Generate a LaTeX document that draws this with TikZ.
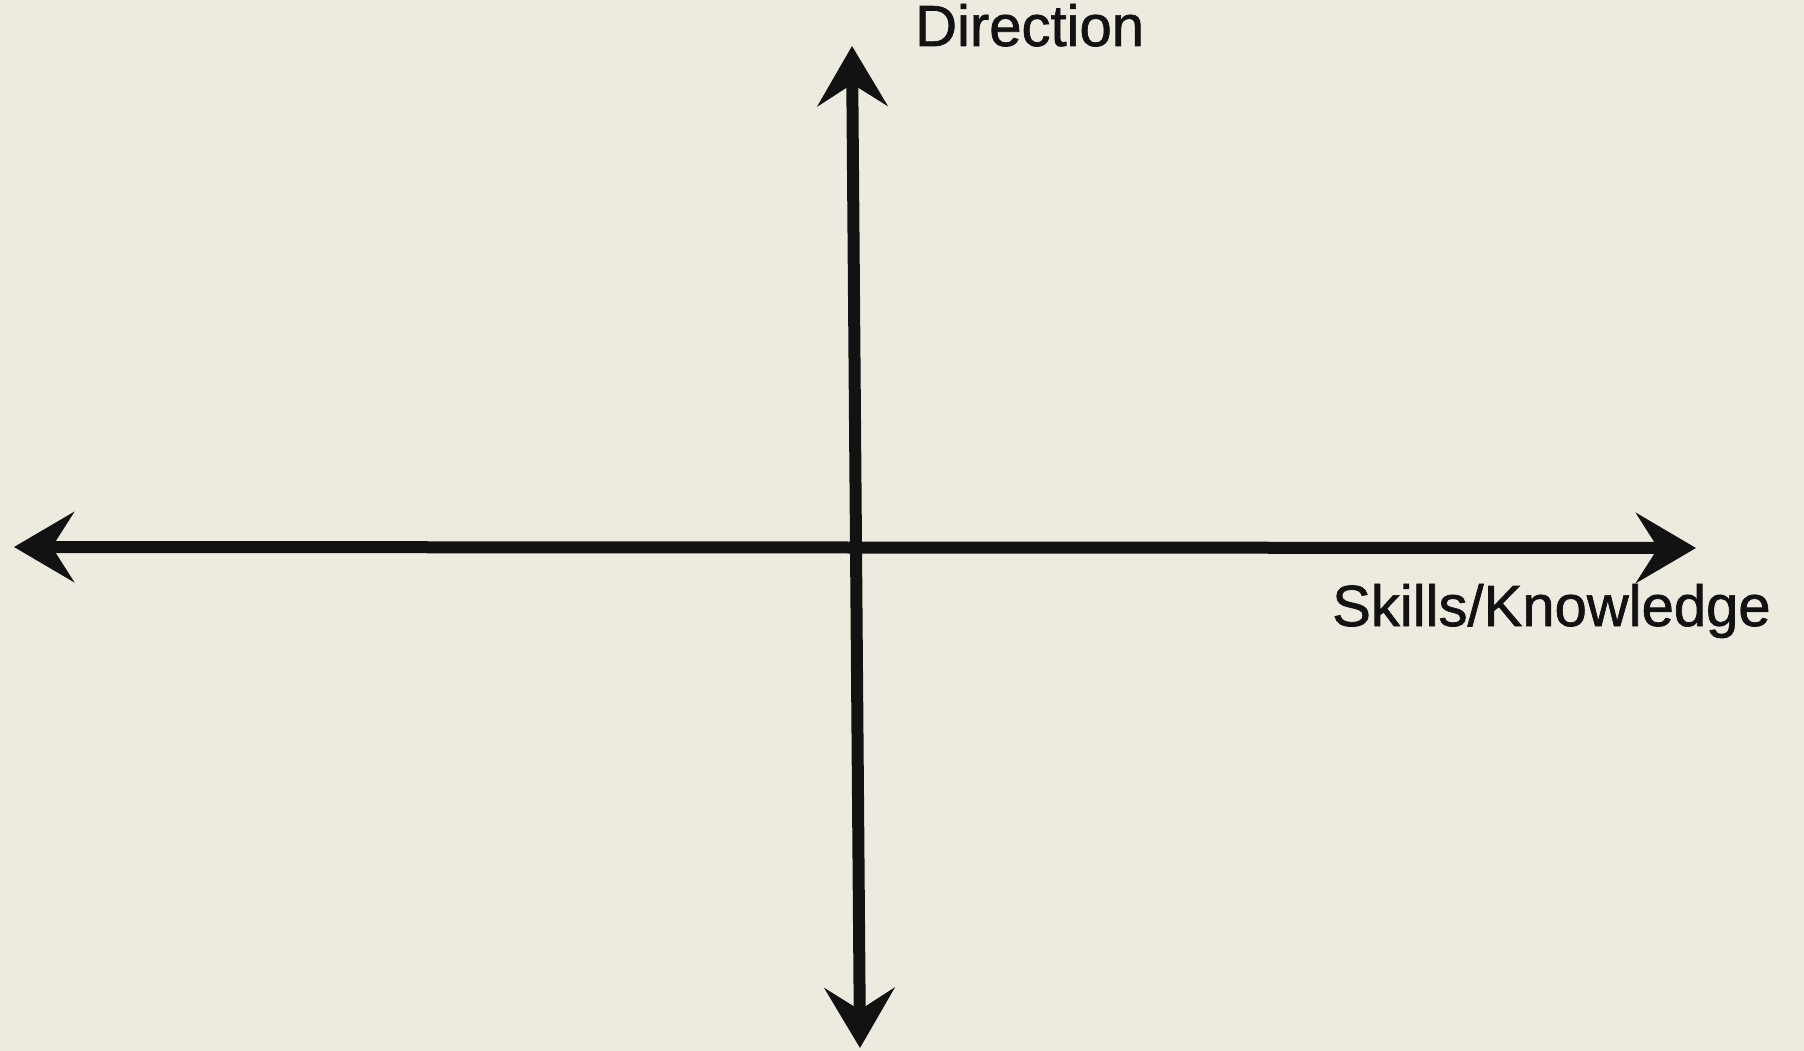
\documentclass[tikz,border=0pt]{standalone}
\usepackage{fontspec}
\setmainfont{Liberation Sans}
\newfontfamily\chalkfont{Liberation Sans}[FakeBold=1.2]
\usetikzlibrary{arrows.meta}
\definecolor{paper}{RGB}{237,235,224}
\definecolor{chalk}{RGB}{18,18,18}
\tikzset{
  axisline/.style={draw=chalk, line width=12pt,
    {Stealth[length=60pt,width=70pt,inset=22pt]}-{Stealth[length=60pt,width=70pt,inset=22pt]}},
  axislabel/.style={text=chalk, font=\chalkfont\fontsize{58}{64}\selectfont, inner sep=0pt, anchor=base west}
}
\begin{document}
\begin{tikzpicture}[x=1pt,y=-1pt]
  \fill[paper] (0,0) rectangle (1804,1051);
  \useasboundingbox (0,0) rectangle (1804,1051);
  \coordinate (top) at (852,46);
  \coordinate (bottom) at (860,1048);
  \coordinate (left) at (14,547);
  \coordinate (right) at (1696,548);
  \draw[axisline] (top) -- (bottom);
  \draw[axisline] (left) -- (right);
  \node[axislabel] (dir) at (915,46) {Direction};
  \node[axislabel] (skills) at (1332,626) {Skills/Knowledge};
\end{tikzpicture}
\end{document}
